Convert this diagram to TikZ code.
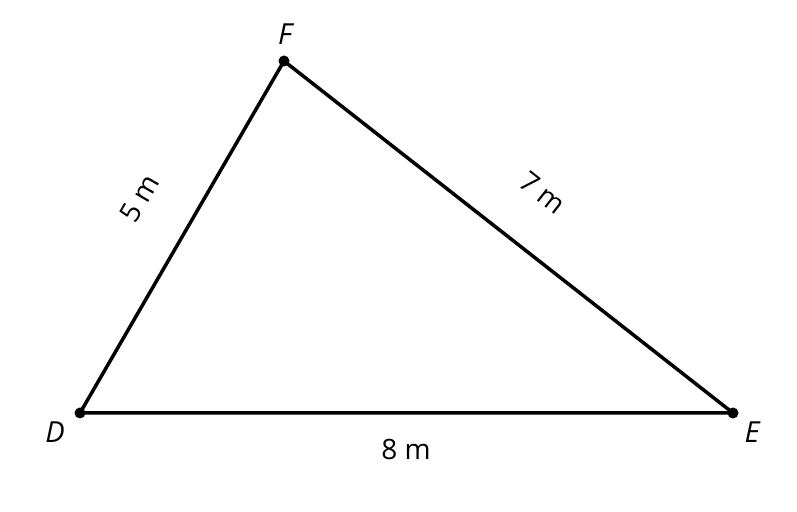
\documentclass[tikz,border=0pt]{standalone}
\usepackage{fontspec}
\setmainfont{Open Sans}
\usetikzlibrary{calc}
\tikzset{
  side/.style={line width=3.5pt, line join=round},
  vertex/.style={circle, fill=black, inner sep=0pt, minimum size=11pt},
  lbl/.style={inner sep=0pt, font=\fontsize{28}{32}\selectfont},
  vname/.style={inner sep=0pt, font=\fontsize{29}{33}\selectfont\itshape}
}
\begin{document}
\begin{tikzpicture}[x=1pt, y=1pt]
        \useasboundingbox (0, 0) rectangle (797, 511);

        \coordinate (D) at (80, 98);
        \coordinate (E) at (733, 98);
        \coordinate (F) at (284, 450);

        \draw[side] (D) -- (E) -- (F) -- cycle;

        \node[vertex] (dD) at (D) {};
        \node[vertex] (dE) at (E) {};
        \node[vertex] (dF) at (F) {};

        \node[vname] (nD) at (55, 79) {D};
        \node[vname] (nE) at (752, 79) {E};
        \node[vname] (nF) at (285, 477) {F};

        \node[lbl, rotate=59.9] (lDF) at ($(D)!0.53!(F)!56pt!90:(F)$) {5 m};
        \node[lbl, rotate=-38.1] (lFE) at ($(F)!0.5!(E)!56pt!90:(E)$) {7 m};
        \node[lbl] (lDE) at (406, 62) {8 m};

    \end{tikzpicture}
\end{document}
